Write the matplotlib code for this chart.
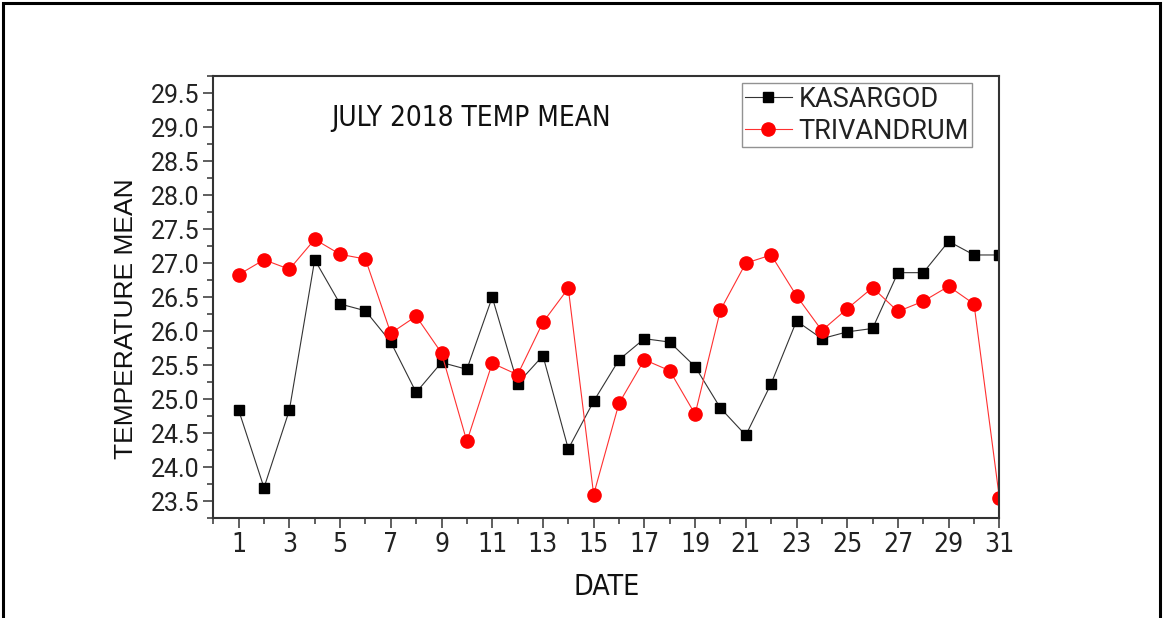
import matplotlib
matplotlib.use("Agg")
import matplotlib.pyplot as plt
from matplotlib.patches import Rectangle
from matplotlib.ticker import MultipleLocator

# daily mean temperature, July 2018
dates = list(range(1, 32))
kasargod = [24.84, 23.70, 24.84, 27.05, 26.40, 26.30, 25.84, 25.10, 25.54, 25.44,
            26.50, 25.23, 25.64, 24.27, 24.97, 25.58, 25.89, 25.84, 25.48, 24.87,
            24.47, 25.23, 26.15, 25.89, 25.99, 26.04, 26.86, 26.86, 27.32, 27.12,
            27.12]
trivandrum = [26.83, 27.05, 26.91, 27.35, 27.13, 27.06, 25.97, 26.22, 25.68, 24.38,
              25.53, 25.36, 26.13, 26.63, 23.60, 24.94, 25.58, 25.42, 24.78, 26.31,
              27.00, 27.12, 26.52, 26.01, 26.33, 26.64, 26.29, 26.44, 26.66, 26.40,
              23.55]

narrow = ["DejaVu Sans"]
plain = ["Liberation Sans", "DejaVu Sans"]
roboto = ["Roboto", "DejaVu Sans"]

fig = plt.figure(figsize=(11.63, 6.18), dpi=100)
ax = fig.add_axes([0.1834, 0.1613, 0.8593 - 0.1834, 0.877 - 0.1613])

# outer frame
fig.patches.append(Rectangle((0.003, -0.05), 0.994, 1.045, transform=fig.transFigure,
                             fill=False, edgecolor="black", linewidth=2.2))

ax.plot(dates, kasargod, color="#333333", linewidth=0.8, marker="s", markersize=7.2,
        markerfacecolor="black", markeredgecolor="black", label="KASARGOD")
ax.plot(dates, trivandrum, color="#ff3030", linewidth=0.8, marker="o", markersize=9.5,
        markerfacecolor="red", markeredgecolor="red", label="TRIVANDRUM")

ax.set_xlim(0, 31)
ax.set_ylim(23.25, 29.75)
ax.set_xticks(range(1, 32, 2))
ax.xaxis.set_minor_locator(MultipleLocator(1))
ax.set_yticks([23.5 + 0.5 * i for i in range(13)])
ax.yaxis.set_minor_locator(MultipleLocator(0.25))
ax.set_yticklabels([f"{23.5 + 0.5 * i:.1f}" for i in range(13)], fontfamily=roboto,
                   fontsize=18, color="#222222")
ax.set_xticklabels([str(d) for d in range(1, 32, 2)], fontfamily=narrow, fontstretch="condensed",
                   fontsize=19, color="#222222")

ax.tick_params(which="major", direction="out", length=7, width=1.1, color="#333333", pad=3)
ax.tick_params(which="minor", direction="out", length=4, width=1.1, color="#333333")
for s in ax.spines.values():
    s.set_linewidth(1.5)
    s.set_color("#333333")

ax.set_xlabel("DATE", fontfamily=narrow, fontstretch="condensed", fontsize=20.5, color="#111111")
ax.xaxis.set_label_coords(0.5, -0.124)
ax.set_ylabel("TEMPERATURE MEAN", fontfamily=plain, fontsize=19, color="#111111")
ax.yaxis.set_label_coords(-0.096, 0.451)

ax.text(0.3285, 0.9057, "JULY 2018 TEMP MEAN", transform=ax.transAxes, ha="center",
        va="center", fontfamily=narrow, fontstretch="condensed", fontsize=20, color="#111111")

leg = ax.legend(loc="upper left", bbox_to_anchor=(0.6725, 0.984), prop={"family": roboto, "size": 19.5},
                frameon=True, fancybox=False, borderpad=0.1, labelspacing=0.18,
                handlelength=1.75, handletextpad=0.25, borderaxespad=0)
leg.get_frame().set_edgecolor("#777777")
leg.get_frame().set_linewidth(1.0)
for t in leg.get_texts():
    t.set_color("#222222")

fig.savefig("out.png", dpi=100)
